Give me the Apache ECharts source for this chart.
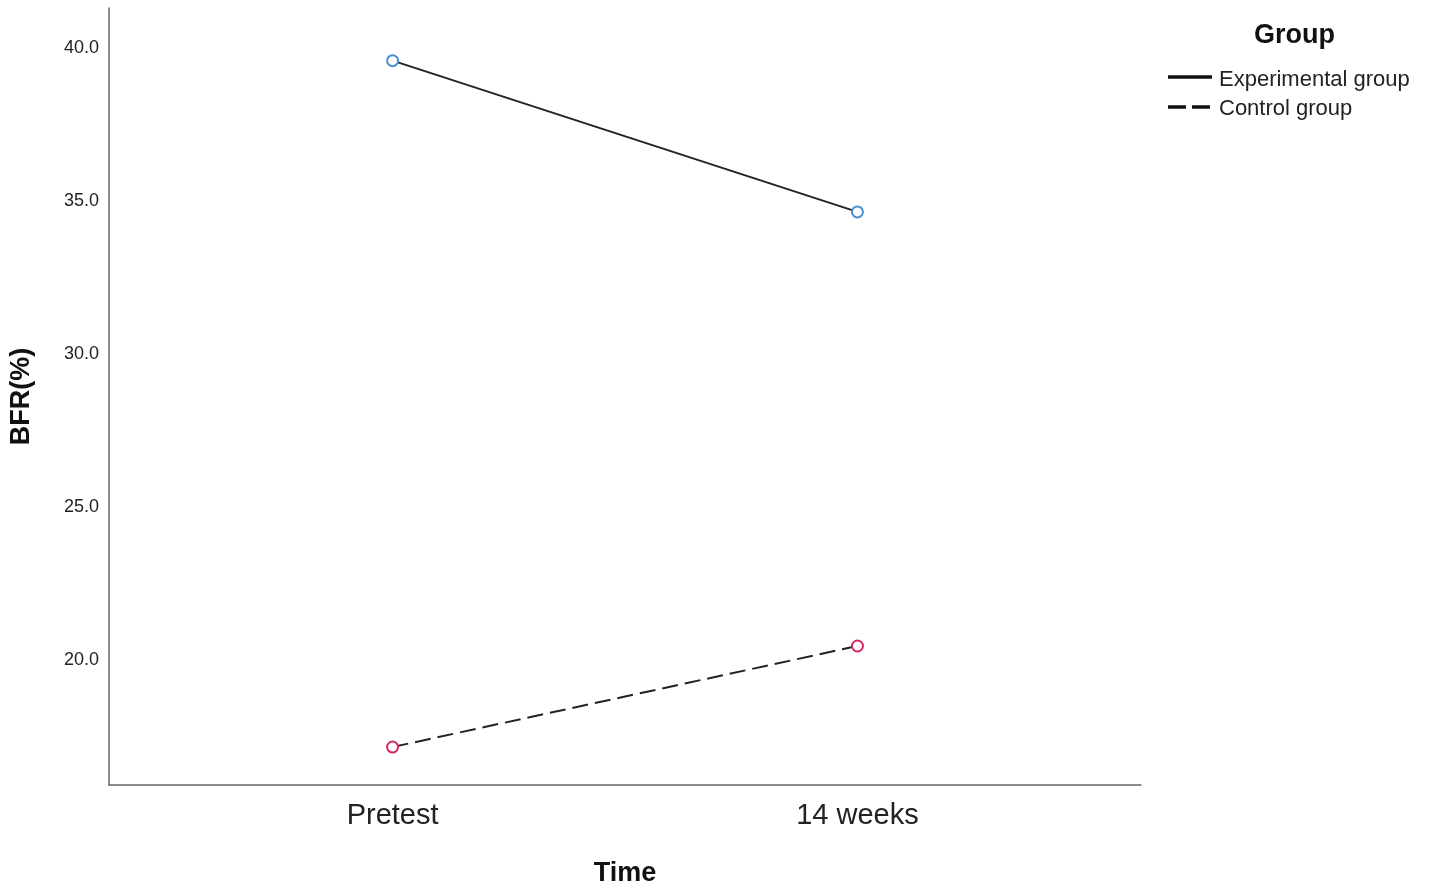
<!DOCTYPE html>
<html>
<head>
<meta charset="utf-8">
<script src="https://cdn.jsdelivr.net/npm/echarts@6/dist/echarts.min.js"></script>
<style>html,body{margin:0;padding:0;background:#fff}#c{width:1430px;height:892px}</style>
</head>
<body>
<div id="c"></div>
<script>
const categories = ['Pretest', '14 weeks'];
const experimental = [39.58, 34.64];
const control = [17.16, 20.46];
const yTicks = [20, 25, 30, 35, 40];
const seriesNames = ['Experimental group', 'Control group'];

const toPairs = arr => arr.map((v, i) => [i, v]);
const font = 'Liberation Sans, Arial, sans-serif';
const chart = echarts.init(document.getElementById('c'));
chart.setOption({
  animation: false,
  backgroundColor: '#fff',
  grid: { left: 107, right: 289, top: 8, bottom: 102, containLabel: false },
  xAxis: {
    type: 'value', min: -0.61, max: 1.61,
    name: 'Time', nameLocation: 'middle', nameGap: 75,
    nameTextStyle: { fontFamily: font, fontSize: 27, fontWeight: 'bold', color: '#111' },
    axisLine: { show: true, onZero: false, lineStyle: { color: '#666', width: 1.5 } },
    axisTick: { show: false },
    splitLine: { show: false },
    axisLabel: {
      customValues: [0, 1], margin: 16,
      formatter: v => categories[Math.round(v)],
      fontFamily: font, fontSize: 29, color: '#222'
    }
  },
  yAxis: {
    type: 'value', min: 15.92, max: 41.3,
    name: 'BFR(%)', nameLocation: 'middle', nameGap: 74, nameRotate: 90,
    nameTextStyle: { fontFamily: font, fontSize: 27, fontWeight: 'bold', color: '#111' },
    axisLine: { show: true, onZero: false, lineStyle: { color: '#666', width: 1.5 } },
    axisTick: { show: false },
    splitLine: { show: false },
    axisLabel: {
      customValues: yTicks, margin: 10,
      formatter: v => Number(v).toFixed(1),
      fontFamily: font, fontSize: 18, color: '#222'
    }
  },
  series: [
    {
      name: seriesNames[0], type: 'line', data: toPairs(experimental),
      symbol: 'emptyCircle', symbolSize: 11,
      itemStyle: { color: '#4a90d9', borderWidth: 1.6 },
      lineStyle: { color: '#222', width: 2 }
    },
    {
      name: seriesNames[1], type: 'line', data: toPairs(control),
      symbol: 'emptyCircle', symbolSize: 11,
      itemStyle: { color: '#d42a5c', borderWidth: 1.6 },
      lineStyle: { color: '#222', width: 2, type: [16, 7] }
    }
  ],
  graphic: [
    { type: 'text', left: 1254, top: 22, style: { text: 'Group', font: 'bold 27px ' + font, fill: '#111' } },
    { type: 'line', shape: { x1: 1168, y1: 77, x2: 1212, y2: 77 }, style: { stroke: '#111', lineWidth: 3.5 } },
    { type: 'line', shape: { x1: 1168, y1: 107, x2: 1212, y2: 107 }, style: { stroke: '#111', lineWidth: 3.5, lineDash: [18, 6] } },
    { type: 'text', left: 1219, top: 69, style: { text: seriesNames[0], font: '22px ' + font, fill: '#222' } },
    { type: 'text', left: 1219, top: 98, style: { text: seriesNames[1], font: '22px ' + font, fill: '#222' } }
  ]
});
</script>
</body>
</html>
